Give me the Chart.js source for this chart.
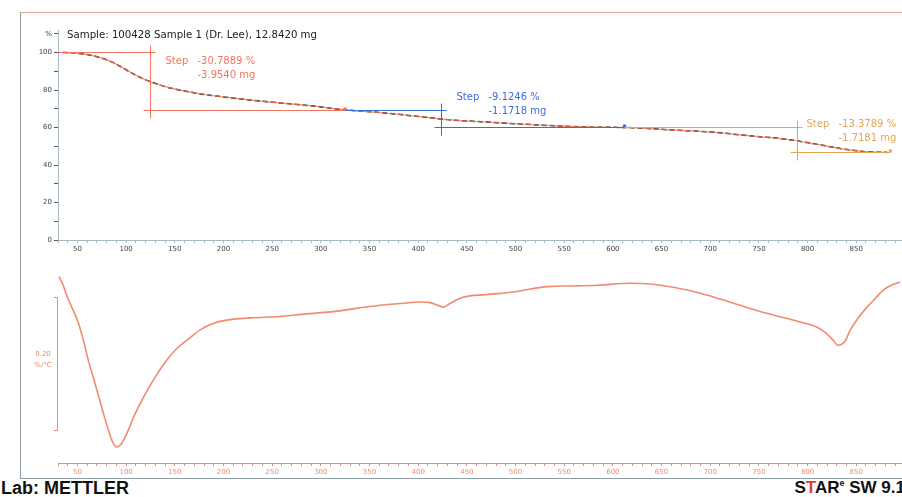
<!DOCTYPE html>
<html>
<head>
<meta charset="utf-8">
<script src="https://cdn.jsdelivr.net/npm/chart.js@4.4.1/dist/chart.umd.min.js"></script>
<style>
  body { margin: 0; background: #fff; width: 902px; height: 497px; overflow: hidden; position: relative; }
  #frame { position: absolute; left: 20px; top: 12px; width: 900px; height: 465px;
           border: 1px solid #8f9ea6; border-top-color: #dca899; }
  canvas { position: absolute; left: 0; }
  #tga { top: 0; }
  #dtg { top: 262px; }
  .foot { position: absolute; top: 479px; font: bold 18px "Liberation Sans Narrow", "Liberation Sans", Arial, sans-serif;
          color: #111; white-space: nowrap; line-height: 18px; }
  #lab { left: 1px; }
  #ver { right: -3px; font-size: 17px; }
  #ver .r { color: #e0402a; }
  #ver sup { font-size: 9px; line-height: 0; vertical-align: 7px; }
</style>
</head>
<body>
<div id="frame"></div>
<canvas id="tga" width="902" height="262"></canvas>
<canvas id="dtg" width="902" height="216"></canvas>
<div class="foot" id="lab">Lab: METTLER</div>
<div class="foot" id="ver">S<span class="r">T</span>AR<sup>e</sup> SW 9.1</div>

<script>
const sampleTitle = "Sample: 100428 Sample 1 (Dr. Lee), 12.8420 mg";

// TGA curve, mass in %
const tgaTemp = [35, 45, 55, 65, 75, 85, 95, 105, 115, 125, 135, 145, 160, 180, 200, 230, 260, 290, 325,
                 360, 400, 430, 460, 500, 540, 580, 620, 660, 700, 740, 780, 810, 840, 860, 882];
const tgaMass = [100, 99.8, 99.3, 98.4, 97.0, 95.0, 92.3, 89.3, 86.6, 84.4, 82.6, 81.1, 79.5, 77.6, 76.3, 74.5, 73.0, 71.6, 69.4,
                 68.0, 65.9, 64.2, 63.2, 62.0, 60.9, 60.2, 59.9, 58.7, 57.6, 55.6, 53.6, 51.0, 48.3, 47.1, 46.7];

// DTG curve, %/°C
const dtgTemp = [31, 35, 40, 46, 51, 56, 61, 66, 71, 76, 81, 86, 90, 94, 98, 103, 108, 115, 122, 132, 142, 152, 163, 176,
                 190, 205, 228, 258, 285, 310, 335, 361, 385, 402, 412, 420, 426, 433, 446, 470, 498, 533, 560, 584,
                 618, 638, 662, 690, 724, 758, 792, 810, 819, 826, 831, 838, 844, 852, 861, 870, 878, 886, 895];
const dtgRate = [-0.010, -0.022, -0.042, -0.062, -0.080, -0.105, -0.135, -0.160, -0.186, -0.212, -0.237, -0.258, -0.266,
                 -0.263, -0.254, -0.238, -0.220, -0.199, -0.180, -0.156, -0.135, -0.118, -0.105, -0.090,
                 -0.080, -0.075, -0.072, -0.070, -0.066, -0.063, -0.058, -0.053, -0.050, -0.048, -0.049, -0.053,
                 -0.056, -0.050, -0.041, -0.037, -0.033, -0.025, -0.024, -0.023,
                 -0.020, -0.021, -0.026, -0.035, -0.050, -0.065, -0.078, -0.086, -0.095, -0.105, -0.113, -0.108,
                 -0.090, -0.072, -0.056, -0.042, -0.030, -0.023, -0.018];

// step evaluations
const stepPercent = [-30.7889, -9.1246, -13.3789];
const stepMg = [-3.9540, -1.1718, -1.7181];
const stepOnset = [30, 325, 612];
const stepAt = [125, 423, 789];
const stepEnd = [325, 612, 885];
const stepColors = ["#f27560", "#3a6fd8", "#e6a650"];

// text placement of each step box, px from the vertical line / upper level
const labelDx = [15, 15, 9];
const labelDy = [9, -13, -3];

const scaleBar = { top: -0.04, span: 0.2, text: ["0.20", "%/°C"] };

const pts = (xs, ys) => xs.map((t, i) => ({ x: t, y: ys[i] }));
const crisp = v => Math.round(v) + 0.5;

function tempAxis(lineColor, labelColor, height) {
  return {
    type: "linear", min: 30, max: 897,
    afterFit: s => { s.height = height; },
    border: { color: lineColor, width: 1 },
    grid: { drawOnChartArea: false, tickLength: 3, tickColor: lineColor },
    ticks: {
      stepSize: 10, includeBounds: false, autoSkip: false, maxRotation: 0, padding: 2,
      color: labelColor, font: { family: "DejaVu Sans", size: 7 },
      callback: v => (v % 50 === 0 ? v : "")
    }
  };
}

const stepLines = {
  id: "stepLines",
  afterDatasetsDraw(chart) {
    const { ctx, scales: { x, y } } = chart;
    ctx.save();
    ctx.font = "11px 'DejaVu Sans'";
    ctx.fillStyle = "#222";
    ctx.textBaseline = "middle";
    ctx.fillText(sampleTitle, 67, 35, 250);

    let level = 100;
    stepPercent.forEach((d, i) => {
      const top = crisp(y.getPixelForValue(level));
      const bot = crisp(y.getPixelForValue(level + d));
      const xs = x.getPixelForValue(stepOnset[i]);
      const xm = crisp(x.getPixelForValue(stepAt[i]));
      const xe = x.getPixelForValue(stepEnd[i]);
      ctx.strokeStyle = stepColors[i];
      ctx.lineWidth = 1;
      ctx.beginPath();
      ctx.moveTo(xs, top); ctx.lineTo(xm + 5, top);
      ctx.moveTo(xm, top - 7); ctx.lineTo(xm, bot + 8);
      ctx.moveTo(xm - 7, bot); ctx.lineTo(xe, bot);
      ctx.stroke();

      // small marker where the next evaluation starts
      ctx.fillStyle = stepColors[i];
      ctx.fillRect(xe - 1.5, bot - 3, 3, 3);

      const tx = xm + labelDx[i];
      const ty = top + labelDy[i];
      ctx.font = "10px 'DejaVu Sans'";
      ctx.fillText("Step", tx, ty);
      ctx.fillText(d.toFixed(4) + " %", tx + 32, ty);
      ctx.fillText(stepMg[i].toFixed(4) + " mg", tx + 32, ty + 14);
      level += d;
    });
    ctx.restore();
  }
};

const dtgScaleBar = {
  id: "dtgScaleBar",
  afterDatasetsDraw(chart) {
    const { ctx, scales: { y } } = chart;
    const y1 = crisp(y.getPixelForValue(scaleBar.top));
    const y2 = crisp(y.getPixelForValue(scaleBar.top - scaleBar.span));
    ctx.save();
    ctx.strokeStyle = "#f08a72";
    ctx.lineWidth = 1;
    ctx.beginPath();
    ctx.moveTo(57.5, y1); ctx.lineTo(57.5, y2);
    ctx.moveTo(54, y1); ctx.lineTo(58, y1);
    ctx.moveTo(54, y2); ctx.lineTo(58, y2);
    ctx.stroke();
    ctx.fillStyle = "#f08a72";
    ctx.font = "7px 'DejaVu Sans'";
    ctx.textAlign = "center";
    ctx.textBaseline = "middle";
    const mid = (y1 + y2) / 2;
    ctx.fillText(scaleBar.text[0], 43, mid - 10);
    ctx.fillText(scaleBar.text[1], 43, mid + 1);
    ctx.restore();
  }
};

Chart.defaults.font.family = "DejaVu Sans";

new Chart(document.getElementById("tga"), {
  type: "line",
  data: {
    datasets: [
      { data: pts(tgaTemp, tgaMass), borderColor: "rgba(240,120,90,0.85)", borderWidth: 1.2,
        pointRadius: 0, cubicInterpolationMode: "monotone" },
      { data: pts(tgaTemp, tgaMass), borderColor: "#111", borderWidth: 1.5, borderDash: [5, 3],
        pointRadius: 0, cubicInterpolationMode: "monotone" }
    ]
  },
  options: {
    responsive: false, animation: false, devicePixelRatio: 1,
    layout: { padding: { left: 0, right: 0, top: 30, bottom: 0 } },
    plugins: { legend: { display: false }, tooltip: { enabled: false } },
    scales: {
      x: tempAxis("#a9b9c4", "#444", 22),
      y: {
        min: 0, max: 112,
        afterFit: s => { s.width = 58; },
        border: { color: "#a9b9c4", width: 1 },
        grid: { drawOnChartArea: false, tickLength: 4, tickColor: "#556" },
        ticks: {
          stepSize: 10, includeBounds: false, autoSkip: false, padding: 2,
          color: "#444", font: { family: "DejaVu Sans", size: 7 },
          callback: v => (v === 110 ? "%" : v % 20 === 0 ? v : "")
        }
      }
    }
  },
  plugins: [stepLines]
});

new Chart(document.getElementById("dtg"), {
  type: "line",
  data: {
    datasets: [
      { data: pts(dtgTemp, dtgRate), borderColor: "rgba(240,125,95,0.9)", borderWidth: 1.6,
        pointRadius: 0, cubicInterpolationMode: "monotone" }
    ]
  },
  options: {
    responsive: false, animation: false, devicePixelRatio: 1,
    layout: { padding: 0 },
    plugins: { legend: { display: false }, tooltip: { enabled: false } },
    scales: {
      x: tempAxis("#f08a72", "#f08a72", 15),
      y: {
        min: -0.290, max: 0.012,
        afterFit: s => { s.width = 58; },
        border: { display: false },
        grid: { display: false },
        ticks: { display: false }
      }
    }
  },
  plugins: [dtgScaleBar]
});
</script>
</body>
</html>
